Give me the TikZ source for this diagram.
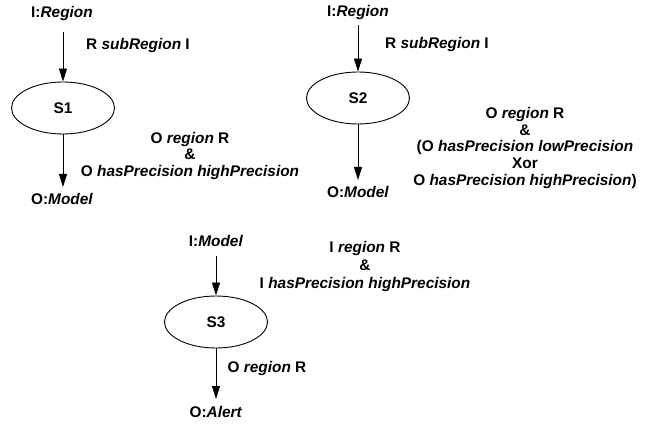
\documentclass[tikz,border=0pt]{standalone}
\usepackage{fontspec}
\setmainfont{Liberation Sans}
\usetikzlibrary{shapes.geometric,arrows.meta}
\begin{document}
\begin{tikzpicture}[x=1pt,y=-1pt,
  lbl/.style={font=\fontsize{15.4}{16.6}\selectfont\bfseries, inner sep=0pt, align=center},
  state/.style={draw, ellipse, line width=0.9pt, minimum width=103pt, minimum height=52pt, font=\fontsize{15.4}{16.6}\selectfont\bfseries},
  flow/.style={-{Triangle[length=13pt,width=8pt]}, line width=0.9pt}]
\useasboundingbox (0,0) rectangle (648,430);
% S1
\node[lbl] (i1) at (62,14) {I:\textit{Region}};
\node[state] (s1) at (63,108) {S1};
\node[lbl] (o1) at (62,199) {O:\textit{Model}};
\coordinate (i1b) at (63,32);
\coordinate (o1t) at (63,187);
\draw[flow] (i1b) -- (s1.north);
\draw[flow] (s1.south) -- (o1t);
\node[lbl] (l1a) at (138,46) {R \textit{subRegion} I};
\node[lbl] (l1b) at (190,156) {O \textit{region} R\\\&\\O \textit{hasPrecision highPrecision}};
% S2
\node[lbl] (i2) at (358,13) {I:\textit{Region}};
\node[state] (s2) at (358,98) {S2};
\node[lbl] (o2) at (358,192) {O:\textit{Model}};
\coordinate (i2b) at (358,25);
\coordinate (o2t) at (358,180);
\draw[flow] (i2b) -- (s2.north);
\draw[flow] (s2.south) -- (o2t);
\node[lbl] (l2a) at (437,45) {R \textit{subRegion} I};
\node[lbl] (l2b) at (525,148) {O \textit{region} R\\\&\\(O \textit{hasPrecision lowPrecision}\\Xor\\O \textit{hasPrecision highPrecision})};
% S3
\node[lbl] (i3) at (216,241) {I:\textit{Model}};
\node[state] (s3) at (216,322) {S3};
\node[lbl] (o3) at (216,412) {O:\textit{Alert}};
\coordinate (i3b) at (216,256);
\coordinate (o3t) at (216,399);
\draw[flow] (i3b) -- (s3.north);
\draw[flow] (s3.south) -- (o3t);
\node[lbl, font=\fontsize{15.4}{18}\selectfont\bfseries] (l3a) at (365,267) {I \textit{region} R\\\&\\I \textit{hasPrecision highPrecision}};
\node[lbl] (l3b) at (267,369) {O \textit{region} R};
\end{tikzpicture}
\end{document}
